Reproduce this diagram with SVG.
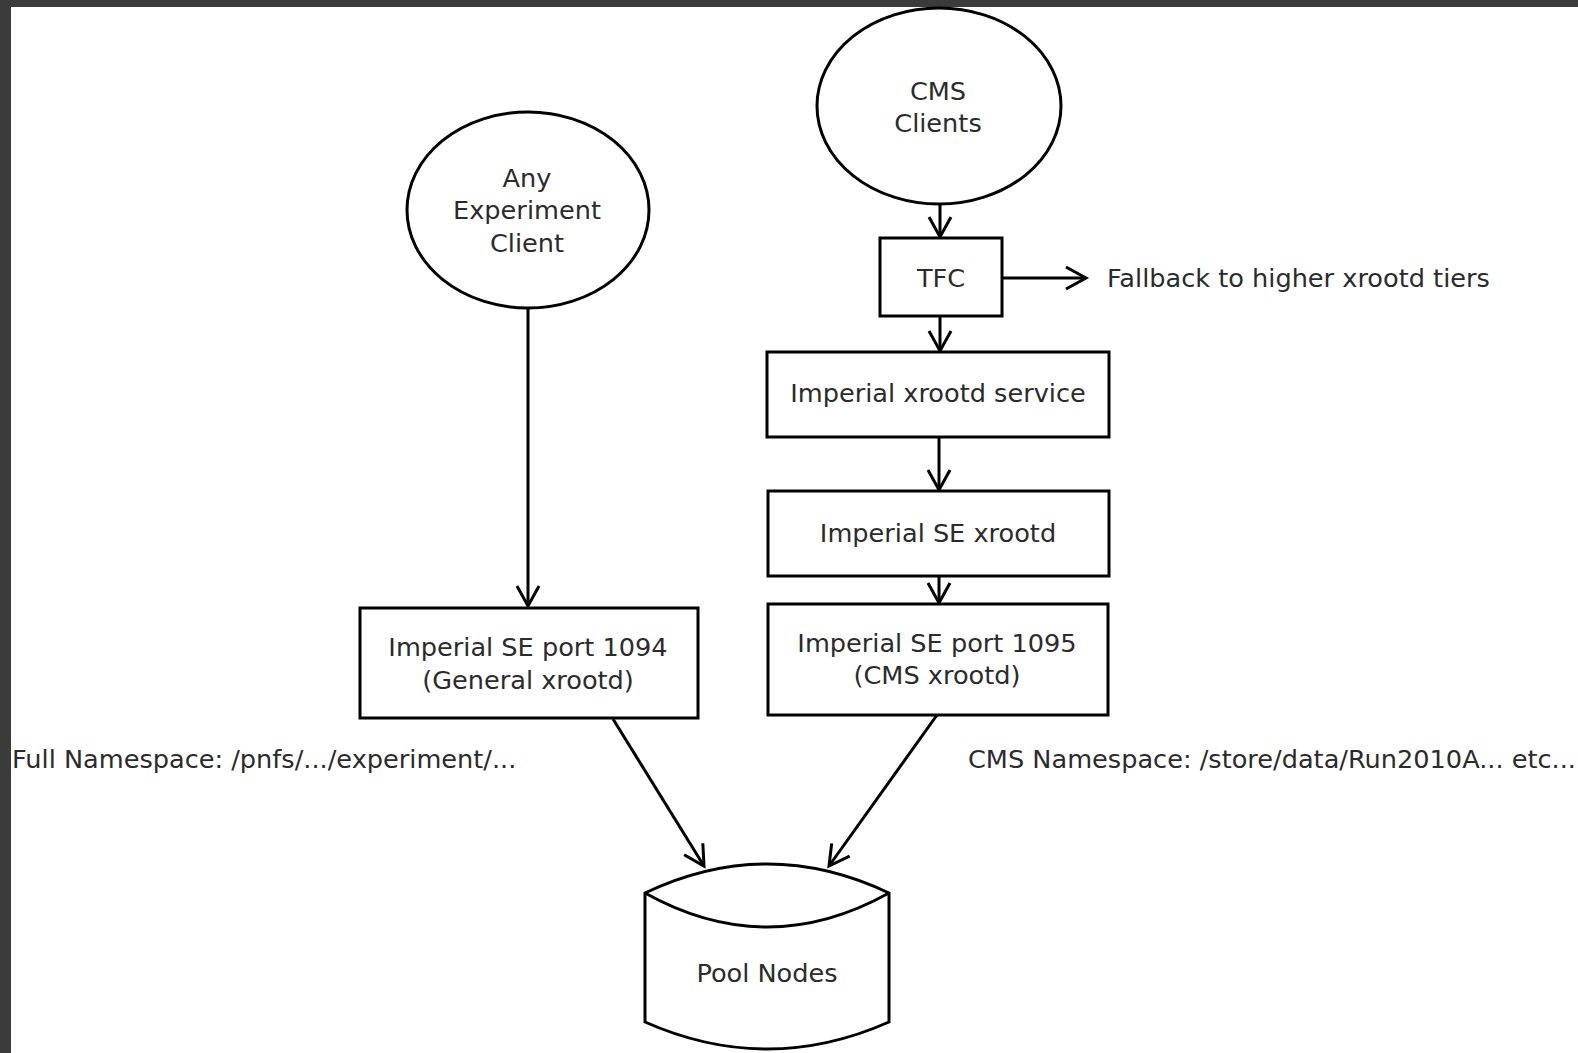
<svg xmlns="http://www.w3.org/2000/svg" width="1578" height="1053" viewBox="0 0 1578 1053">
  <style>
    .shape { fill: #ffffff; stroke: #000000; stroke-width: 3; }
    .edge { fill: none; stroke: #000000; stroke-width: 3; marker-end: url(#arrow); }
    text { font-family: "DejaVu Sans", "Liberation Sans", sans-serif; font-size: 25.6px; fill: #2b2b2b; dominant-baseline: central; }
    .c { text-anchor: middle; }
  </style>
  <defs>
    <marker id="arrow" markerUnits="userSpaceOnUse" markerWidth="30" markerHeight="30" refX="0" refY="0" orient="auto" overflow="visible">
      <path d="M-20,-11 L0,0 L-20,11" fill="none" stroke="#000000" stroke-width="3" stroke-linejoin="miter"/>
    </marker>
  </defs>

  <rect x="0" y="0" width="1578" height="1053" fill="#ffffff"/>
  <rect x="0" y="0" width="1578" height="7" fill="#3b3b3b"/>
  <rect x="0" y="0" width="11" height="1053" fill="#3b3b3b"/>

  <g id="connectors">
    <line class="edge" x1="528" y1="308" x2="528" y2="606"/>
    <line class="edge" x1="940" y1="204" x2="940" y2="237"/>
    <line class="edge" x1="1002" y1="278" x2="1086" y2="278"/>
    <line class="edge" x1="940" y1="316" x2="940" y2="351"/>
    <line class="edge" x1="939" y1="437" x2="939" y2="490"/>
    <line class="edge" x1="939" y1="576" x2="939" y2="603"/>
    <line class="edge" x1="613" y1="719" x2="704" y2="866"/>
    <line class="edge" x1="937" y1="715" x2="829" y2="866"/>
  </g>

  <g id="any-experiment-client">
    <ellipse class="shape" cx="528" cy="210" rx="121" ry="98"/>
    <text class="c" x="527" y="178">Any</text>
    <text class="c" x="527" y="210">Experiment</text>
    <text class="c" x="527" y="243">Client</text>
  </g>

  <g id="cms-clients">
    <ellipse class="shape" cx="939" cy="106" rx="122" ry="98"/>
    <text class="c" x="938" y="91">CMS</text>
    <text class="c" x="938" y="123">Clients</text>
  </g>

  <g id="tfc">
    <rect class="shape" x="880" y="238" width="122" height="78"/>
    <text class="c" x="941" y="278">TFC</text>
  </g>

  <g id="fallback">
    <text x="1107" y="278">Fallback to higher xrootd tiers</text>
  </g>

  <g id="imperial-xrootd-service">
    <rect class="shape" x="767" y="352" width="342" height="85"/>
    <text class="c" x="938" y="393">Imperial xrootd service</text>
  </g>

  <g id="imperial-se-xrootd">
    <rect class="shape" x="768" y="491" width="341" height="85"/>
    <text class="c" x="938" y="533">Imperial SE xrootd</text>
  </g>

  <g id="imperial-se-port-1095">
    <rect class="shape" x="768" y="604" width="340" height="111"/>
    <text class="c" x="937" y="643">Imperial SE port 1095</text>
    <text class="c" x="937" y="675">(CMS xrootd)</text>
  </g>

  <g id="imperial-se-port-1094">
    <rect class="shape" x="360" y="608" width="338" height="110"/>
    <text class="c" x="528" y="647">Imperial SE port 1094</text>
    <text class="c" x="528" y="680">(General xrootd)</text>
  </g>

  <g id="full-namespace">
    <text x="12" y="759">Full Namespace: /pnfs/.../experiment/...</text>
  </g>

  <g id="cms-namespace">
    <text x="968" y="759">CMS Namespace: /store/data/Run2010A... etc...</text>
  </g>

  <g id="pool-nodes">
    <path class="shape" d="M645,893 Q767,835 889,893 L889,1022 Q767,1076 645,1022 Z"/>
    <path fill="none" stroke="#000000" stroke-width="3" d="M645,893 Q767,961 889,893"/>
    <text class="c" x="767" y="973">Pool Nodes</text>
  </g>
</svg>
